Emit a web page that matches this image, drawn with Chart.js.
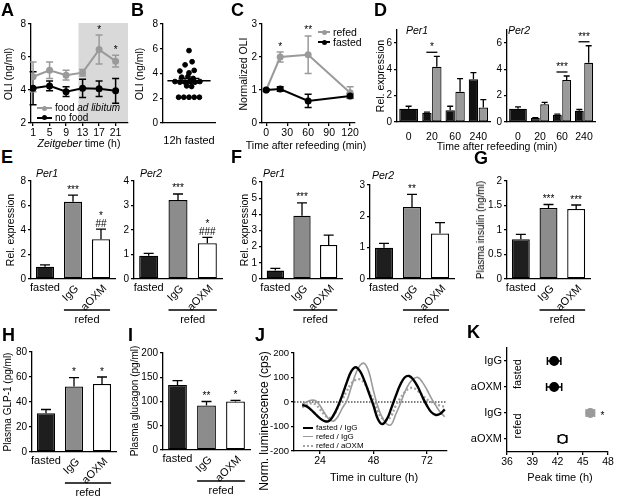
<!DOCTYPE html>
<html>
<head>
<meta charset="utf-8">
<script src="https://cdn.jsdelivr.net/npm/chart.js@4.4.1/dist/chart.umd.min.js"></script>
<style>
  html, body { margin: 0; padding: 0; background: #fff; }
  body { position: relative; width: 617px; height: 497px; overflow: hidden;
         font-family: "Liberation Sans", Arial, sans-serif; color: #000; }
  canvas { position: absolute; }
  .t { position: absolute; white-space: nowrap; line-height: 1; }
</style>
</head>
<body>
<script>
// ---- A: OLI over the day
const aZT = [1, 5, 9, 13, 17, 21];
const aFood = [4.8, 5.2, 4.9, 5.05, 6.45, 5.75];
const aFoodSem = [0.9, 0.5, 0.3, 0.2, 0.88, 0.35];
const aNoFood = [4.1, 4.25, 3.9, 4.1, 4.08, 3.95];
const aNoFoodSem = [1.0, 0.3, 0.3, 0.55, 0.47, 0.75];
const aStars = ['', '', '', '', '*', '*'];
const aDark = [12, 24];

// ---- B: 12h fasted OLI, individual mice
const bOli = [5.85, 4.95, 4.7, 4.2, 4.05, 4.25, 3.7, 3.75, 3.6, 3.35, 3.3, 3.3,
              3.35, 3.3, 3.35, 3.0, 2.95, 2.08, 2.08, 2.08, 2.08, 2.08];
const bSpread = [0, 0.12, -0.15, -0.35, 0, 0.2, -0.28, -0.04, 0.16, -0.54, -0.35, -0.15,
                 0.04, 0.23, 0.42, -0.09, 0.1, -0.4, -0.2, 0, 0.2, 0.4];
const bMean = 3.42, bSem = 0.18;
const bGroup = '12h fasted';

// ---- C: normalized OLI after refeeding
const cMin = [0, 20, 60, 120];
const cTicks = [0, 30, 60, 90, 120];
const cRefed = [1.0, 2.0, 2.07, 0.92];
const cRefedSem = [0, 0.15, 0.57, 0.18];
const cFasted = [1.0, 1.03, 0.67, 0.82];
const cFastedSem = [0.03, 0.07, 0.2, 0.07];
const cStars = ['', '*', '**', ''];

// ---- D: liver clock genes after refeeding
const dMinutes = ['0', '20', '60', '240'];
const dPer1Fasted = [1.0, 0.7, 0.9, 3.25];
const dPer1FastedSem = [0.2, 0.05, 0.3, 0.5];
const dPer1Refed = [null, 4.2, 2.3, 1.1];
const dPer1RefedSem = [0, 0.8, 1.0, 0.6];
const dPer1Stars = ['', '*', '', ''];
const dPer2Fasted = [1.0, 0.3, 0.55, 0.85];
const dPer2FastedSem = [0.15, 0.04, 0.05, 0.1];
const dPer2Refed = [null, 1.35, 3.2, 4.5];
const dPer2RefedSem = [0, 0.15, 0.3, 1.3];
const dPer2Stars = ['', '', '***', '***'];

// ---- E-I: fasted vs refed with IgG / anti-OXM
const treatCats = ['fasted', 'IgG', 'aOXM'];
const groupLabel = 'refed';
const ePer1 = [1.0, 6.3, 3.25], ePer1Sem = [0.15, 0.55, 0.82], ePer1Stars = [[], ['***'], ['##', '*']];
const ePer2 = [0.95, 3.22, 1.46], ePer2Sem = [0.1, 0.25, 0.24], ePer2Stars = [[], ['***'], ['###', '*']];
const fPer1 = [0.52, 3.91, 2.1], fPer1Sem = [0.14, 0.8, 0.62], fPer1Stars = [[], ['***'], []];
const fPer2 = [1.0, 2.3, 1.45], fPer2Sem = [0.14, 0.4, 0.35], fPer2Stars = [[], ['**'], []];
const gInsulin = [0.81, 1.45, 1.43], gInsulinSem = [0.1, 0.07, 0.08], gStars = [[], ['***'], ['***']];
const hGlp1 = [31, 52.5, 54.5], hGlp1Sem = [3, 7, 5.5], hStars = [[], ['*'], ['*']];
const iGlucagon = [134, 92, 100], iGlucagonSem = [9, 8, 2.5], iStars = [[], ['**'], ['*']];

// ---- J: luminescence traces
const jTime = [16, 18, 20, 22, 24, 26, 28, 30, 32, 34, 36, 38, 40, 42, 44, 46, 48,
               50, 52, 54, 56, 58, 60, 62, 64, 66, 68, 70, 72, 74, 76, 78, 80];
const jTicks = [24, 48, 72];
const jFastedIgG = [-12, -18, -32, -50, -67, -78, -78, -55, -18, 28, 80, 125, 142, 125, 85, 35, -15,
                    -70, -90, -70, -25, 25, 70, 100, 106, 90, 60, 20, -15, -42, -53, -48, -30];
const jRefedIgG = [-8, 0, 7, 5, -15, -45, -70, -78, -60, -25, 5, 60, 115, 150, 157, 120, 45,
                   -20, -65, -90, -92, -50, -8, 40, 75, 95, 100, 80, 50, 15, -15, -42, -60];
const jRefedAoxm = [-22, -12, -5, -10, -30, -52, -65, -55, -22, 10, 45, 75, 90, 92, 75, 42, 5,
                    -40, -67, -73, -55, -15, 15, 40, 55, 57, 45, 28, 10, 0, -8, -15, -19];
const jNames = ['fasted / IgG', 'refed / IgG', 'refed / aOXM'];

// ---- K: peak time
const kLabels = ['IgG', 'aOXM', 'IgG', 'aOXM'];
const kPeak = [41.6, 41.6, 45.9, 42.6];
const kSem = [0.8, 0.9, 0.5, 0.5];
const kStars = ['', '', '*', ''];
const kGroups = ['fasted', 'refed'];

// ---------------------------------------------------------------
const FONT = '"Liberation Sans", Arial, sans-serif';
const GRAY = '#9a9a9a';
const treatFill = ['#1e1e1e', '#8c8c8c', '#ffffff'];
const kFill = ['#000', '#000', '#9a9a9a', '#fff'];
const kEdge = ['#000', '#000', '#9a9a9a', '#000'];

Chart.defaults.font.family = FONT;
Chart.defaults.font.size = 10;
Chart.defaults.color = '#000';
Chart.defaults.plugins.legend.display = false;
Chart.defaults.plugins.tooltip.enabled = false;

function valueOf(d, horiz) {
  return (d !== null && typeof d === 'object') ? (horiz ? d.x : d.y) : d;
}

// error bars from dataset.errors
const errorBars = {
  id: 'errorBars',
  beforeDatasetsDraw(chart) {
    const ctx = chart.ctx, horiz = chart.options.indexAxis === 'y';
    const vs = horiz ? chart.scales.x : chart.scales.y;
    chart.data.datasets.forEach((ds, di) => {
      if (!ds.errors) return;
      chart.getDatasetMeta(di).data.forEach((el, i) => {
        const v = valueOf(ds.data[i], horiz), e = ds.errors[i];
        if (v == null || !e) return;
        const hi = vs.getPixelForValue(v + e);
        const lo = vs.getPixelForValue(ds.errorUp ? v : v - e);
        const c = ds.cap || 3.5, p = horiz ? el.y : el.x;
        ctx.save();
        ctx.strokeStyle = Array.isArray(ds.errorColor) ? ds.errorColor[i] : (ds.errorColor || '#000');
        ctx.lineWidth = ds.errorWidth || 1.3;
        ctx.beginPath();
        if (horiz) {
          ctx.moveTo(lo, p); ctx.lineTo(hi, p);
          ctx.moveTo(hi, p - c); ctx.lineTo(hi, p + c);
          if (!ds.errorUp) { ctx.moveTo(lo, p - c); ctx.lineTo(lo, p + c); }
        } else {
          ctx.moveTo(p, lo); ctx.lineTo(p, hi);
          ctx.moveTo(p - c, hi); ctx.lineTo(p + c, hi);
          if (!ds.errorUp) { ctx.moveTo(p - c, lo); ctx.lineTo(p + c, lo); }
        }
        ctx.stroke();
        ctx.restore();
      });
    });
  }
};

// significance marks above value + error
const marks = {
  id: 'marks',
  afterDatasetsDraw(chart) {
    const ctx = chart.ctx, ys = chart.scales.y;
    chart.data.datasets.forEach((ds, di) => {
      if (!ds.marks) return;
      chart.getDatasetMeta(di).data.forEach((el, i) => {
        const m = [].concat(ds.marks[i] || []).filter(Boolean);
        if (!m.length) return;
        const v = valueOf(ds.data[i]) + ((ds.errors && ds.errors[i]) || 0);
        let y = ys.getPixelForValue(v) - 2.5;
        ctx.save();
        ctx.fillStyle = '#000';
        ctx.font = '10px ' + FONT;
        ctx.textAlign = 'center';
        ctx.textBaseline = 'alphabetic';
        m.forEach(t => { ctx.fillText(t, el.x, y); y -= 8; });
        ctx.restore();
      });
    });
  }
};
Chart.register(errorBars, marks);

function addChart(plot, axL, axB, config, padR = 12, padT = 10) {
  const cv = document.createElement('canvas');
  const w = Math.round(plot.w + axL + padR), h = Math.round(plot.h + axB + padT);
  cv.width = w; cv.height = h;
  cv.style.left = (plot.x - axL) + 'px';
  cv.style.top = (plot.y - padT) + 'px';
  cv.style.width = w + 'px';
  cv.style.height = h + 'px';
  document.body.appendChild(cv);
  const o = config.options = config.options || {};
  o.responsive = false;
  o.animation = false;
  o.layout = { padding: { top: padT, right: padR, left: 0, bottom: 0 } };
  Object.entries(o.scales).forEach(([id, s]) => {
    const horiz = id.charAt(0) === 'x';
    s.afterFit = sc => { if (horiz) sc.height = axB; else sc.width = axL; };
  });
  return new Chart(cv, config);
}

const border = { display: true, color: '#000', width: 1.3 };
const tickMarks = { display: true, drawOnChartArea: false, drawTicks: true, tickLength: 3, color: '#000', lineWidth: 1.3 };

function valueAxis(min, max, step, size = 10) {
  return { type: 'linear', min, max, border, grid: tickMarks,
    ticks: { stepSize: step, font: { size }, padding: 2, callback: v => String(v) } };
}
function xLinear(min, max, at) {
  return { type: 'linear', min, max, border, grid: tickMarks,
    afterBuildTicks: s => { s.ticks = at.map(value => ({ value })); },
    ticks: { font: { size: 10.5 }, padding: 1, maxRotation: 0, callback: v => String(v) } };
}
function catAxis(show) {
  return { type: 'category', offset: true, border, grid: { display: false },
    ticks: { display: show, font: { size: 10.5 }, padding: 1, maxRotation: 0, autoSkip: false } };
}

// HTML text helpers
function label(html, x, y, size, o = {}) {
  const d = document.createElement('div');
  d.className = 't';
  d.innerHTML = html;
  d.style.fontSize = size + 'px';
  d.style.left = x + 'px';
  d.style.top = y + 'px';
  let tf = o.left ? 'translate(0,-50%)' : 'translate(-50%,-50%)';
  if (o.rot) tf += ' rotate(-90deg)';
  d.style.transform = tf;
  if (o.italic) d.style.fontStyle = 'italic';
  if (o.bold) d.style.fontWeight = 'bold';
  document.body.appendChild(d);
}
function legendItem(x1, x2, y, color, lw, dotted, dot, html, size) {
  const ln = document.createElement('div');
  ln.style.cssText = `position:absolute;left:${x1}px;top:${y - lw / 2}px;width:${x2 - x1}px;` +
    `border-top:${lw}px ${dotted ? 'dotted' : 'solid'} ${color};`;
  document.body.appendChild(ln);
  if (dot) {
    const d = document.createElement('div');
    d.style.cssText = `position:absolute;left:${(x1 + x2) / 2 - dot}px;top:${y - dot}px;` +
      `width:${2 * dot}px;height:${2 * dot}px;border-radius:50%;background:${color};`;
    document.body.appendChild(d);
  }
  label(html, x2 + 3, y, size, { left: true });
}

// plot areas (page pixels)
const P = {
  A: { x: 31, y: 24, w: 97, h: 99 },
  B: { x: 163, y: 24, w: 52, h: 99 },
  C: { x: 262, y: 24, w: 93, h: 99 },
  D1: { x: 397, y: 30, w: 93, h: 92 },
  D2: { x: 507, y: 30, w: 88, h: 92 },
  E1: { x: 31, y: 181, w: 84, h: 98 },
  E2: { x: 134, y: 181, w: 88, h: 98 },
  F1: { x: 262, y: 182, w: 80, h: 97 },
  F2: { x: 370, y: 185, w: 84, h: 94 },
  G: { x: 507, y: 181, w: 83, h: 98 },
  H: { x: 32, y: 352, w: 84, h: 100 },
  I: { x: 163, y: 353, w: 87, h: 97 },
  J: { x: 294, y: 353, w: 153, h: 98 },
  K: { x: 507, y: 348, w: 101, h: 104 }
};

// ---- A
function shade(range) {
  return { id: 'shade', beforeDraw(chart) {
    const { ctx, chartArea: ca, scales: { x } } = chart;
    const l = Math.max(ca.left, x.getPixelForValue(range[0]));
    const r = Math.min(ca.right, x.getPixelForValue(range[1]));
    ctx.save(); ctx.fillStyle = '#d9d9d9';
    ctx.fillRect(l, ca.top - 1, r - l, ca.bottom - ca.top + 1);
    ctx.restore();
  } };
}
addChart(P.A, 30, 20, {
  type: 'line',
  data: { datasets: [
    { data: aZT.map((x, i) => ({ x, y: aNoFood[i] })), errors: aNoFoodSem, borderColor: '#000',
      backgroundColor: '#000', borderWidth: 2, pointRadius: 2.5, errorWidth: 1.5 },
    { data: aZT.map((x, i) => ({ x, y: aFood[i] })), errors: aFoodSem, marks: aStars, borderColor: GRAY,
      backgroundColor: GRAY, errorColor: GRAY, borderWidth: 2, pointRadius: 2.5, errorWidth: 1.5 }
  ] },
  options: { scales: { x: xLinear(0.5, 24, aZT), y: valueAxis(2, 8, 2) } },
  plugins: [shade(aDark)]
});

// ---- B
function meanSem(mean, sem) {
  return { id: 'meanSem', afterDatasetsDraw(chart) {
    const { ctx, scales: { x, y } } = chart;
    ctx.save(); ctx.strokeStyle = '#000'; ctx.lineWidth = 1.5;
    ctx.beginPath();
    ctx.moveTo(x.getPixelForValue(-0.83), y.getPixelForValue(mean));
    ctx.lineTo(x.getPixelForValue(0.83), y.getPixelForValue(mean));
    [mean + sem, mean - sem].forEach(v => {
      ctx.moveTo(x.getPixelForValue(-0.4), y.getPixelForValue(v));
      ctx.lineTo(x.getPixelForValue(0.4), y.getPixelForValue(v));
    });
    ctx.moveTo(x.getPixelForValue(0), y.getPixelForValue(mean + sem));
    ctx.lineTo(x.getPixelForValue(0), y.getPixelForValue(mean - sem));
    ctx.stroke(); ctx.restore();
  } };
}
addChart(P.B, 30, 30, {
  type: 'scatter',
  data: { datasets: [{ data: bOli.map((y, i) => ({ x: bSpread[i], y })), pointRadius: 2.4,
    backgroundColor: '#000', borderColor: '#000' }] },
  options: { scales: {
    x: { type: 'linear', min: -1, max: 1, border, grid: { display: false },
      afterBuildTicks: s => { s.ticks = [{ value: 0 }]; },
      ticks: { font: { size: 11 }, padding: 3, callback: () => bGroup } },
    y: valueAxis(0, 8, 2) } },
  plugins: [meanSem(bMean, bSem)]
});

// ---- C
addChart(P.C, 30, 20, {
  type: 'line',
  data: { datasets: [
    { data: cMin.map((x, i) => ({ x, y: cFasted[i] })), errors: cFastedSem, borderColor: '#000',
      backgroundColor: '#000', borderWidth: 2, pointRadius: 2.5, errorWidth: 1.5 },
    { data: cMin.map((x, i) => ({ x, y: cRefed[i] })), errors: cRefedSem, marks: cStars, borderColor: GRAY,
      backgroundColor: GRAY, errorColor: GRAY, borderWidth: 2, pointRadius: 2.5, errorWidth: 1.5 }
  ] },
  options: { scales: { x: xLinear(-6, 127, cTicks), y: valueAxis(0, 3, 1) } }
});

// ---- D
function pairMarks(stars) {
  return { id: 'pairMarks', afterDatasetsDraw(chart) {
    const { ctx, scales: { y } } = chart;
    const m0 = chart.getDatasetMeta(0), m1 = chart.getDatasetMeta(1);
    stars.forEach((t, i) => {
      if (!t) return;
      const tops = chart.data.datasets.map(ds => ds.data[i] == null ? -Infinity : ds.data[i] + (ds.errors[i] || 0));
      const yy = y.getPixelForValue(Math.max(...tops)) - 4;
      const cx = (m0.data[i].x + m1.data[i].x) / 2;
      ctx.save(); ctx.strokeStyle = '#000'; ctx.lineWidth = 1.3;
      ctx.beginPath(); ctx.moveTo(cx - 5.5, yy); ctx.lineTo(cx + 5.5, yy); ctx.stroke();
      ctx.fillStyle = '#000'; ctx.font = '10px ' + FONT; ctx.textAlign = 'center';
      ctx.fillText(t, cx, yy - 2);
      ctx.restore();
    });
  } };
}
function dPanel(plot, fasted, fastedSem, refed, refedSem, stars) {
  const bar = { errorUp: true, cap: 3, borderColor: '#000', borderWidth: 1.2, skipNull: true,
    categoryPercentage: 0.85, barPercentage: 0.95, borderSkipped: false };
  addChart(plot, 30, 30, {
    type: 'bar',
    data: { labels: dMinutes, datasets: [
      Object.assign({ data: fasted, errors: fastedSem, backgroundColor: '#111' }, bar),
      Object.assign({ data: refed, errors: refedSem, backgroundColor: GRAY }, bar)
    ] },
    options: { scales: { x: catAxis(true), y: valueAxis(0, 7, 1) } },
    plugins: [pairMarks(stars)]
  });
}
dPanel(P.D1, dPer1Fasted, dPer1FastedSem, dPer1Refed, dPer1RefedSem, dPer1Stars);
dPanel(P.D2, dPer2Fasted, dPer2FastedSem, dPer2Refed, dPer2RefedSem, dPer2Stars);

// ---- E-I
const treatLabels = { id: 'treatLabels', afterDraw(chart) {
  const ctx = chart.ctx, meta = chart.getDatasetMeta(0), b = chart.chartArea.bottom;
  ctx.save();
  ctx.fillStyle = '#000'; ctx.strokeStyle = '#000';
  ctx.font = '11px ' + FONT;
  treatCats.forEach((lab, i) => {
    const el = meta.data[i];
    if (i === 0) {
      ctx.textAlign = 'center'; ctx.textBaseline = 'middle';
      ctx.fillText(lab, el.x, b + 9);
    } else {
      ctx.save();
      ctx.translate(el.x + 4, b + 8);
      ctx.rotate(-Math.PI / 4);
      ctx.textAlign = 'right'; ctx.textBaseline = 'middle';
      ctx.fillText(lab, 0, 0);
      ctx.restore();
    }
  });
  const l = meta.data[1].x - meta.data[1].width / 2, r = meta.data[2].x + meta.data[2].width / 2;
  ctx.lineWidth = 1.3;
  ctx.beginPath(); ctx.moveTo(l, b + 31); ctx.lineTo(r, b + 31); ctx.stroke();
  ctx.textAlign = 'center'; ctx.textBaseline = 'middle';
  ctx.fillText(groupLabel, (l + r) / 2, b + 41);
  ctx.restore();
} };
function treatPanel(plot, yMax, yStep, values, sem, stars) {
  addChart(plot, 30, 50, {
    type: 'bar',
    data: { labels: treatCats, datasets: [{ data: values, errors: sem, errorUp: true, cap: 5, marks: stars,
      backgroundColor: treatFill, borderColor: '#000', borderWidth: 1.3, borderSkipped: false,
      categoryPercentage: 0.72, barPercentage: 0.9 }] },
    options: { scales: { x: catAxis(false), y: valueAxis(0, yMax, yStep) } },
    plugins: [treatLabels]
  });
}
treatPanel(P.E1, 8, 2, ePer1, ePer1Sem, ePer1Stars);
treatPanel(P.E2, 4, 1, ePer2, ePer2Sem, ePer2Stars);
treatPanel(P.F1, 6, 1, fPer1, fPer1Sem, fPer1Stars);
treatPanel(P.F2, 3, 1, fPer2, fPer2Sem, fPer2Stars);
treatPanel(P.G, 2, 0.5, gInsulin, gInsulinSem, gStars);
treatPanel(P.H, 80, 20, hGlp1, hGlp1Sem, hStars);
treatPanel(P.I, 200, 50, iGlucagon, iGlucagonSem, iStars);

// ---- J
const zeroLine = { id: 'zeroLine', beforeDatasetsDraw(chart) {
  const { ctx, chartArea: ca, scales: { y } } = chart;
  const yy = y.getPixelForValue(0);
  ctx.save(); ctx.strokeStyle = '#000'; ctx.lineWidth = 1.2; ctx.setLineDash([1.5, 1.5]);
  ctx.beginPath(); ctx.moveTo(ca.left, yy); ctx.lineTo(ca.right, yy); ctx.stroke();
  ctx.restore();
} };
const trace = (vals, color, width, dash) => ({
  data: jTime.map((x, i) => ({ x, y: vals[i] })), borderColor: color, borderWidth: width,
  borderDash: dash || [], pointRadius: 0, tension: 0.4, fill: false
});
addChart(P.J, 32, 22, {
  type: 'line',
  data: { datasets: [
    trace(jFastedIgG, '#000', 2.4),
    trace(jRefedIgG, GRAY, 1.6),
    trace(jRefedAoxm, '#a3a3a3', 2.4, [2, 2.2])
  ] },
  options: { scales: { x: xLinear(12.3, 81, jTicks), y: valueAxis(-200, 200, 100, 9.5) } },
  plugins: [zeroLine]
});

// ---- K
const kExtras = { id: 'kExtras', afterDatasetsDraw(chart) {
  const { ctx, chartArea: ca, scales: { x, y } } = chart;
  ctx.save(); ctx.fillStyle = '#000';
  ctx.font = '11px ' + FONT;
  kGroups.forEach((g, gi) => {
    const yc = (y.getPixelForValue(gi * 2) + y.getPixelForValue(gi * 2 + 1)) / 2;
    ctx.save(); ctx.translate(ca.left + 11, yc); ctx.rotate(-Math.PI / 2);
    ctx.textAlign = 'center'; ctx.textBaseline = 'middle'; ctx.fillText(g, 0, 0);
    ctx.restore();
  });
  ctx.font = '10px ' + FONT; ctx.textAlign = 'left'; ctx.textBaseline = 'alphabetic';
  kStars.forEach((s, i) => {
    if (!s) return;
    ctx.fillText(s, x.getPixelForValue(kPeak[i] + kSem[i]) + 6, y.getPixelForValue(i) + 6);
  });
  ctx.restore();
} };
addChart(P.K, 48, 22, {
  type: 'line',
  data: { labels: kLabels, datasets: [{ data: kPeak, errors: kSem, errorColor: kEdge, cap: 4, errorWidth: 1.5,
    showLine: false, pointRadius: 4.2, pointBackgroundColor: kFill, pointBorderColor: kEdge, pointBorderWidth: 1.5 }] },
  options: { indexAxis: 'y', scales: {
    x: { type: 'linear', min: 36, max: 48, border, grid: tickMarks,
      ticks: { stepSize: 3, font: { size: 10.5 }, padding: 1, callback: v => String(v) } },
    y: { type: 'category', offset: true, border, grid: tickMarks,
      ticks: { font: { size: 11 }, padding: 2, autoSkip: false } } } },
  plugins: [kExtras]
});

// ---- texts
[['A', 1, 10], ['B', 131, 10], ['C', 231, 10], ['D', 374, 10], ['E', 1, 156.5], ['F', 231, 156.5],
 ['G', 474, 158], ['H', 2, 334.5], ['I', 128, 334.5], ['J', 255, 334.5], ['K', 467, 331.5]]
  .forEach(([t, x, y]) => label(t, x, y, 18, { bold: true, left: true }));

label('OLI (ng/ml)', 8, 73.5, 10.5, { rot: true });
label('<i>Zeitgeber</i> time (h)', 79, 143, 10.5);
label('OLI (ng/ml)', 139, 73.5, 10.5, { rot: true });
label('Normalized OLI', 243, 73.5, 10.5, { rot: true });
label('Time after refeeding (min)', 306, 145, 10.5);
label('Rel. expression', 380, 76, 10.5, { rot: true });
label('Time after refeeding (min)', 497, 146, 10.5);
label('Rel. expression', 10, 230, 10.5, { rot: true });
label('Rel. expression', 244, 230, 10.5, { rot: true });
label('Plasma insulin (ng/ml)', 481, 230, 10, { rot: true });
label('Plasma GLP-1 (pg/ml)', 8, 402, 10, { rot: true });
label('Plasma glucagon (pg/ml)', 135, 401, 10, { rot: true });
label('Norm. luminescence (cps)', 264, 421, 12, { rot: true });
label('Time in culture (h)', 374, 477, 11);
label('Peak time (h)', 560, 477, 11);

label('Per1', 406, 30, 10.5, { italic: true, left: true });
label('Per2', 508, 30, 10.5, { italic: true, left: true });
label('Per1', 36, 173, 10.5, { italic: true, left: true });
label('Per2', 140, 173, 10.5, { italic: true, left: true });
label('Per1', 263, 173, 10.5, { italic: true, left: true });
label('Per2', 372, 175, 10.5, { italic: true, left: true });

legendItem(37, 52, 108, GRAY, 2, false, 2.5, 'food <i>ad libitum</i>', 10);
legendItem(37, 52, 117.5, '#000', 2, false, 2.5, 'no food', 10);
legendItem(318, 330, 32, GRAY, 2, false, 2.5, 'refed', 10.5);
legendItem(318, 330, 42, '#000', 2, false, 2.5, 'fasted', 10.5);
legendItem(303, 313, 428, '#000', 2, false, 0, jNames[0], 8);
legendItem(303, 313, 437, GRAY, 1.3, false, 0, jNames[1], 8);
legendItem(303, 313, 446, '#a3a3a3', 2, true, 0, jNames[2], 8);
</script>
</body>
</html>
